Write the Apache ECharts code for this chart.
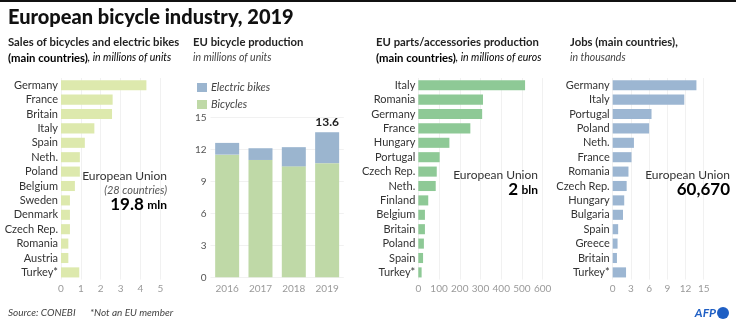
<!DOCTYPE html>
<html>
<head>
<meta charset="utf-8">
<script src="https://cdn.jsdelivr.net/npm/echarts@6/dist/echarts.min.js"></script>
<style>
  html, body { margin: 0; padding: 0; background: #fff; }
  #chart { width: 736px; height: 328px; }
</style>
</head>
<body>
<div id="chart"></div>
<script>
// Sales of bicycles and e-bikes, millions of units
const salesCountries = ['Germany', 'France', 'Britain', 'Italy', 'Spain', 'Neth.', 'Poland', 'Belgium', 'Sweden', 'Denmark', 'Czech Rep.', 'Romania', 'Austria', 'Turkey*'];
const salesValues = [4.3, 2.6, 2.57, 1.68, 1.2, 0.95, 0.95, 0.7, 0.45, 0.45, 0.45, 0.37, 0.37, 0.92];
const salesTicks = [0, 1, 2, 3, 4, 5];

// EU bicycle production, millions of units
const productionYears = ['2016', '2017', '2018', '2019'];
const productionBicycles = [11.5, 11.0, 10.4, 10.7];
const productionEbikes = [1.1, 1.1, 1.8, 2.9];
const productionTicks = [0, 3, 6, 9, 12, 15];

// Parts / accessories production, millions of euros
const partsCountries = ['Italy', 'Romania', 'Germany', 'France', 'Hungary', 'Portugal', 'Czech Rep.', 'Neth.', 'Finland', 'Belgium', 'Britain', 'Poland', 'Spain', 'Turkey*'];
const partsValues = [515, 312, 308, 251, 150, 103, 89, 84, 48, 32, 32, 27, 23, 16];
const partsTicks = [0, 100, 200, 300, 400, 500, 600];

// Jobs, thousands
const jobsCountries = ['Germany', 'Italy', 'Portugal', 'Poland', 'Neth.', 'France', 'Romania', 'Czech Rep.', 'Hungary', 'Bulgaria', 'Spain', 'Greece', 'Britain', 'Turkey*'];
const jobsValues = [13.8, 11.8, 6.4, 6.0, 3.5, 3.1, 2.6, 2.3, 1.9, 1.7, 0.9, 0.8, 0.7, 2.2];
const jobsTicks = [0, 3, 6, 9, 12, 15];

const FONT = 'Lato';
const GRID_LINE = '#f1f1f1';
const TICK_COLOR = '#9a9a9a';
const LABEL_COLOR = '#333';
const HEAD_SIZE = 11.3;

function valueAxis(gridIndex, ticks) {
  return {
    type: 'value', gridIndex,
    min: ticks[0], max: ticks[ticks.length - 1], interval: ticks[1] - ticks[0],
    axisLine: { show: false }, axisTick: { show: false },
    axisLabel: { color: TICK_COLOR, fontFamily: FONT, fontSize: 10, margin: 4 },
    splitLine: { lineStyle: { color: GRID_LINE, width: 1 } }
  };
}
function categoryAxis(gridIndex, cats) {
  return {
    type: 'category', gridIndex, data: cats, inverse: true,
    axisLine: { show: false }, axisTick: { show: false },
    axisLabel: { color: LABEL_COLOR, fontFamily: FONT, fontSize: 11, margin: 3 }
  };
}

const chart = echarts.init(document.getElementById('chart'), null, { renderer: 'canvas' });

const hTop = 78, hHeight = 201.6;

function txt(x, y, text, opts) {
  return { type: 'text', x, y, z: 10, style: Object.assign({ text, fontFamily: FONT, fill: '#222', fontSize: 12, textVerticalAlign: 'middle' }, opts || {}) };
}
// EU total figure: large number followed by a smaller unit
function totalText(x, y, num, unit) {
  return {
    type: 'text', x, y, z: 10,
    style: {
      text: unit ? '{n|' + num + '} {u|' + unit + '}' : '{n|' + num + '}',
      textAlign: 'right', textVerticalAlign: 'middle',
      rich: {
        n: { fontFamily: FONT, fontSize: 17, fontWeight: 'bold', color: '#111' },
        u: { fontFamily: FONT, fontSize: 12, fontWeight: 'bold', color: '#111' }
      }
    }
  };
}
function headLine2(x, y, bold, italic) {
  return {
    type: 'text', x, y,
    style: {
      text: '{b|' + bold + '}{i|' + italic + '}', textVerticalAlign: 'middle',
      rich: {
        b: { fontFamily: FONT, fontSize: HEAD_SIZE, fontWeight: 'bold', color: '#222' },
        i: { fontFamily: FONT, fontSize: 10.5, fontStyle: 'italic', color: '#444' }
      }
    }
  };
}

chart.setOption({
  animation: false,
  backgroundColor: '#fff',
  grid: [
    { left: 61, top: hTop, width: 99.3, height: hHeight },
    { left: 210.5, top: 117.3, width: 133.3, height: 160 },
    { left: 418.3, top: hTop, width: 124.4, height: hHeight },
    { left: 612.7, top: hTop, width: 91, height: hHeight }
  ],
  xAxis: [
    valueAxis(0, salesTicks),
    {
      type: 'category', gridIndex: 1, data: productionYears,
      axisLine: { show: false }, axisTick: { show: false },
      axisLabel: { color: TICK_COLOR, fontFamily: FONT, fontSize: 10, margin: 6 }
    },
    valueAxis(2, partsTicks),
    valueAxis(3, jobsTicks)
  ],
  yAxis: [
    categoryAxis(0, salesCountries),
    Object.assign(valueAxis(1, productionTicks), { axisLabel: { color: '#555', fontFamily: FONT, fontSize: 10, margin: 4 } }),
    categoryAxis(2, partsCountries),
    categoryAxis(3, jobsCountries)
  ],
  series: [
    {
      type: 'bar', xAxisIndex: 0, yAxisIndex: 0, data: salesValues,
      barCategoryGap: '30%', itemStyle: { color: '#dde9ad' }
    },
    {
      name: 'Bicycles', type: 'bar', stack: 'prod', xAxisIndex: 1, yAxisIndex: 1,
      data: productionBicycles, barWidth: 24, itemStyle: { color: '#bfd9a7' }
    },
    {
      name: 'Electric bikes', type: 'bar', stack: 'prod', xAxisIndex: 1, yAxisIndex: 1,
      data: productionEbikes, barWidth: 24, itemStyle: { color: '#9bb5cf' },
      label: {
        show: true, position: 'top', distance: 4,
        fontFamily: FONT, fontSize: 12, fontWeight: 'bold', color: '#222',
        formatter: p => p.dataIndex === productionYears.length - 1
          ? (productionBicycles[p.dataIndex] + productionEbikes[p.dataIndex]).toFixed(1) : ''
      }
    },
    {
      type: 'bar', xAxisIndex: 2, yAxisIndex: 2, data: partsValues,
      barCategoryGap: '30%', itemStyle: { color: '#8ec996' }
    },
    {
      type: 'bar', xAxisIndex: 3, yAxisIndex: 3, data: jobsValues,
      barCategoryGap: '30%', itemStyle: { color: '#9cb6d2' }
    }
  ],
  legend: {
    data: ['Electric bikes', 'Bicycles'],
    orient: 'vertical', left: 192, top: 77,
    itemWidth: 10, itemHeight: 9, itemGap: 6,
    icon: 'rect',
    textStyle: { fontFamily: FONT, fontSize: 11, fontStyle: 'italic', color: '#444', padding: [0, 0, 0, -1] }
  },
  graphic: [
    { type: 'rect', shape: { x: 0, y: 0, width: 736, height: 2 }, style: { fill: '#111' } },
    txt(8, 18, 'European bicycle industry, 2019', { fontSize: 20, fontWeight: 900, fill: '#111' }),

    // panel headings
    txt(8, 42, 'Sales of bicycles and electric bikes', { fontSize: HEAD_SIZE, fontWeight: 'bold' }),
    headLine2(8, 58, '(main countries)', ', in millions of units'),
    txt(193, 42, 'EU bicycle production', { fontSize: HEAD_SIZE, fontWeight: 'bold' }),
    txt(193, 58, 'in millions of units', { fontSize: 10.5, fontStyle: 'italic', fill: '#444' }),
    txt(376, 42, 'EU parts/accessories production', { fontSize: HEAD_SIZE, fontWeight: 'bold' }),
    headLine2(376, 58, '(main countries)', ', in millions of euros'),
    txt(570, 42, 'Jobs (main countries),', { fontSize: HEAD_SIZE, fontWeight: 'bold' }),
    txt(570, 58, 'in thousands', { fontSize: 10.5, fontStyle: 'italic', fill: '#444' }),

    // EU totals
    txt(167, 176, 'European Union', { fontSize: 12, textAlign: 'right', fill: '#333' }),
    txt(167, 190, '(28 countries)', { fontSize: 11, fontStyle: 'italic', textAlign: 'right', fill: '#555' }),
    totalText(167, 205, '19.8', 'mln'),
    txt(538, 175, 'European Union', { fontSize: 12, textAlign: 'right', fill: '#333' }),
    totalText(538, 190, '2', 'bln'),
    txt(730, 175, 'European Union', { fontSize: 12, textAlign: 'right', fill: '#333' }),
    totalText(730, 190, '60,670', ''),

    // footer
    txt(8, 313, 'Source: CONEBI', { fontSize: 10, fontStyle: 'italic', fill: '#444' }),
    txt(90, 313, '*Not an EU member', { fontSize: 10, fontStyle: 'italic', fill: '#444' }),
    txt(716, 313, 'AFP', { fontSize: 12, fontWeight: 'bold', fontStyle: 'italic', textAlign: 'right', fill: '#1f5fc4' }),
    { type: 'circle', shape: { cx: 723, cy: 313, r: 6 }, style: { fill: '#1f5fc4' } }
  ]
});
</script>
</body>
</html>
